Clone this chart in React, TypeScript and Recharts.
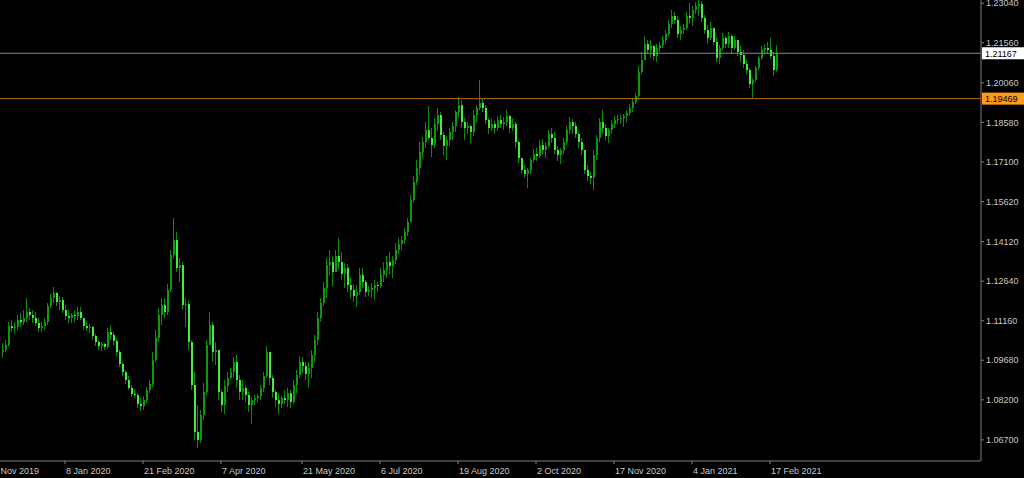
import React from 'react';
import { ComposedChart, Bar, XAxis, YAxis, ReferenceLine } from 'recharts';

// EURUSD daily candles, Nov 2019 - Feb 2021
const highs = [
  1.1033, 1.1044, 1.1112, 1.1119, 1.1112, 1.1138, 1.1145, 1.1157, 1.1201, 1.1164,
  1.1157, 1.1149, 1.1127, 1.1112, 1.1127, 1.1183, 1.1216, 1.1243, 1.1224, 1.1209,
  1.1205, 1.1175, 1.1157, 1.1145, 1.1157, 1.1168, 1.1168, 1.1127, 1.1112, 1.1104,
  1.1097, 1.1067, 1.1044, 1.1037, 1.1033, 1.1089, 1.1097, 1.1074, 1.1052, 1.1007,
  1.0962, 1.0932, 1.0910, 1.0876, 1.0857, 1.0846, 1.0827, 1.0835, 1.0869, 1.0895,
  1.0999, 1.1082, 1.1164, 1.1201, 1.1201, 1.1254, 1.1381, 1.1501, 1.1448, 1.1351,
  1.1336, 1.1201, 1.1194, 1.1044, 1.0925, 1.0801, 1.0783, 1.0884, 1.1044, 1.1149,
  1.1112, 1.1037, 1.1007, 1.0857, 1.0895, 1.0925, 1.0940, 1.0981, 1.0988, 1.0914,
  1.0895, 1.0876, 1.0850, 1.0831, 1.0839, 1.0842, 1.0876, 1.0925, 1.1022, 1.0999,
  1.0914, 1.0857, 1.0846, 1.0835, 1.0857, 1.0865, 1.0857, 1.0895, 1.0932, 1.0985,
  1.0981, 1.0962, 1.0962, 1.1007, 1.1063, 1.1149, 1.1201, 1.1261, 1.1351, 1.1381,
  1.1359, 1.1381, 1.1426, 1.1374, 1.1332, 1.1329, 1.1276, 1.1254, 1.1250, 1.1314,
  1.1314, 1.1269, 1.1246, 1.1258, 1.1269, 1.1261, 1.1314, 1.1336, 1.1359, 1.1374,
  1.1359, 1.1407, 1.1426, 1.1433, 1.1463, 1.1501, 1.1587, 1.1658, 1.1718, 1.1785,
  1.1804, 1.1860, 1.1920, 1.1837, 1.1875, 1.1912, 1.1897, 1.1822, 1.1807, 1.1837,
  1.1860, 1.1905, 1.1953, 1.1942, 1.1875, 1.1860, 1.1849, 1.1905, 1.1923, 1.2017,
  1.1949, 1.1923, 1.1875, 1.1871, 1.1863, 1.1882, 1.1886, 1.1878, 1.1905, 1.1886,
  1.1875, 1.1860, 1.1792, 1.1725, 1.1699, 1.1688, 1.1725, 1.1759, 1.1762, 1.1792,
  1.1796, 1.1785, 1.1830, 1.1837, 1.1822, 1.1770, 1.1762, 1.1800, 1.1845, 1.1878,
  1.1871, 1.1860, 1.1822, 1.1800, 1.1755, 1.1699, 1.1673, 1.1755, 1.1811, 1.1875,
  1.1905, 1.1852, 1.1837, 1.1867, 1.1882, 1.1886, 1.1886, 1.1890, 1.1905, 1.1927,
  1.1949, 1.1968, 1.2069, 1.2121, 1.2181, 1.2166, 1.2166, 1.2148, 1.2151, 1.2159,
  1.2181, 1.2204, 1.2241, 1.2279, 1.2271, 1.2256, 1.2219, 1.2226, 1.2271, 1.2305,
  1.2294, 1.2309, 1.2316, 1.2312, 1.2260, 1.2223, 1.2234, 1.2211, 1.2174, 1.2148,
  1.2193, 1.2181, 1.2196, 1.2189, 1.2181, 1.2166, 1.2144, 1.2129, 1.2092, 1.2062,
  1.2024, 1.2069, 1.2107, 1.2144, 1.2151, 1.2159, 1.2174, 1.2121, 1.2148,
];

const lows = [
  1.0977, 1.0999, 1.1018, 1.1074, 1.1067, 1.1082, 1.1093, 1.1101, 1.1112, 1.1119,
  1.1108, 1.1097, 1.1074, 1.1074, 1.1082, 1.1101, 1.1164, 1.1183, 1.1172, 1.1157,
  1.1145, 1.1119, 1.1108, 1.1108, 1.1112, 1.1119, 1.1119, 1.1082, 1.1078, 1.1071,
  1.1044, 1.1022, 1.1007, 1.1003, 1.1007, 1.1011, 1.1044, 1.1026, 1.0985, 1.0943,
  1.0910, 1.0880, 1.0857, 1.0831, 1.0827, 1.0790, 1.0779, 1.0783, 1.0809, 1.0846,
  1.0869, 1.0962, 1.1037, 1.1101, 1.1127, 1.1138, 1.1224, 1.1351, 1.1299, 1.1261,
  1.1157, 1.1093, 1.1007, 1.0857, 1.0670, 1.0640, 1.0659, 1.0745, 1.0839, 1.1026,
  1.0962, 1.0951, 1.0820, 1.0775, 1.0768, 1.0850, 1.0895, 1.0902, 1.0865, 1.0820,
  1.0820, 1.0812, 1.0775, 1.0730, 1.0801, 1.0812, 1.0820, 1.0850, 1.0902, 1.0876,
  1.0827, 1.0794, 1.0768, 1.0790, 1.0805, 1.0794, 1.0790, 1.0805, 1.0846, 1.0902,
  1.0921, 1.0895, 1.0865, 1.0902, 1.0962, 1.1026, 1.1112, 1.1172, 1.1201, 1.1287,
  1.1246, 1.1299, 1.1306, 1.1269, 1.1239, 1.1224, 1.1201, 1.1187, 1.1168, 1.1213,
  1.1239, 1.1205, 1.1209, 1.1201, 1.1194, 1.1224, 1.1239, 1.1261, 1.1276, 1.1291,
  1.1276, 1.1329, 1.1366, 1.1381, 1.1403, 1.1433, 1.1486, 1.1561, 1.1624, 1.1662,
  1.1725, 1.1762, 1.1792, 1.1729, 1.1762, 1.1830, 1.1792, 1.1736, 1.1718, 1.1770,
  1.1792, 1.1822, 1.1875, 1.1837, 1.1792, 1.1815, 1.1781, 1.1807, 1.1860, 1.1905,
  1.1897, 1.1852, 1.1815, 1.1826, 1.1815, 1.1826, 1.1837, 1.1830, 1.1845, 1.1819,
  1.1826, 1.1762, 1.1706, 1.1665, 1.1650, 1.1613, 1.1665, 1.1710, 1.1714, 1.1725,
  1.1740, 1.1725, 1.1762, 1.1781, 1.1740, 1.1714, 1.1703, 1.1740, 1.1774, 1.1815,
  1.1815, 1.1800, 1.1762, 1.1736, 1.1665, 1.1639, 1.1628, 1.1605, 1.1718, 1.1785,
  1.1815, 1.1792, 1.1781, 1.1815, 1.1837, 1.1852, 1.1852, 1.1841, 1.1860, 1.1882,
  1.1897, 1.1927, 1.1942, 1.2039, 1.2092, 1.2114, 1.2099, 1.2092, 1.2084, 1.2121,
  1.2136, 1.2151, 1.2181, 1.2211, 1.2226, 1.2174, 1.2166, 1.2189, 1.2204, 1.2226,
  1.2219, 1.2264, 1.2256, 1.2234, 1.2189, 1.2151, 1.2166, 1.2148, 1.2084, 1.2077,
  1.2129, 1.2136, 1.2136, 1.2114, 1.2129, 1.2107, 1.2084, 1.2062, 1.2039, 1.1987,
  1.1949, 1.2009, 1.2054, 1.2092, 1.2114, 1.2114, 1.2099, 1.2032, 1.2047,
];

const opens = [
  1.0999, 1.1007, 1.1026, 1.1097, 1.1089, 1.1093, 1.1119, 1.1112, 1.1127, 1.1149,
  1.1138, 1.1127, 1.1108, 1.1089, 1.1097, 1.1112, 1.1172, 1.1201, 1.1220, 1.1187,
  1.1194, 1.1157, 1.1134, 1.1127, 1.1138, 1.1134, 1.1149, 1.1127, 1.1097, 1.1089,
  1.1093, 1.1059, 1.1037, 1.1022, 1.1029, 1.1018, 1.1074, 1.1063, 1.1041, 1.0999,
  1.0955, 1.0925, 1.0895, 1.0865, 1.0842, 1.0839, 1.0805, 1.0798, 1.0820, 1.0857,
  1.0880, 1.0970, 1.1052, 1.1138, 1.1175, 1.1149, 1.1231, 1.1362, 1.1418, 1.1314,
  1.1325, 1.1175, 1.1179, 1.1037, 1.0876, 1.0700, 1.0670, 1.0764, 1.0850, 1.1026,
  1.1101, 1.0999, 1.1007, 1.0850, 1.0801, 1.0872, 1.0902, 1.0925, 1.0962, 1.0895,
  1.0850, 1.0865, 1.0839, 1.0801, 1.0820, 1.0827, 1.0835, 1.0865, 1.0910, 1.0999,
  1.0902, 1.0850, 1.0820, 1.0805, 1.0827, 1.0820, 1.0846, 1.0812, 1.0876, 1.0914,
  1.0962, 1.0947, 1.0917, 1.0940, 1.0988, 1.1044, 1.1127, 1.1183, 1.1239, 1.1325,
  1.1336, 1.1299, 1.1359, 1.1336, 1.1291, 1.1314, 1.1250, 1.1231, 1.1209, 1.1224,
  1.1287, 1.1261, 1.1224, 1.1231, 1.1239, 1.1250, 1.1246, 1.1287, 1.1306, 1.1336,
  1.1321, 1.1344, 1.1381, 1.1403, 1.1418, 1.1448, 1.1486, 1.1568, 1.1635, 1.1688,
  1.1748, 1.1785, 1.1830, 1.1800, 1.1774, 1.1852, 1.1886, 1.1811, 1.1770, 1.1792,
  1.1822, 1.1845, 1.1897, 1.1923, 1.1860, 1.1837, 1.1845, 1.1822, 1.1886, 1.1912,
  1.1931, 1.1912, 1.1867, 1.1837, 1.1852, 1.1837, 1.1867, 1.1852, 1.1860, 1.1882,
  1.1837, 1.1852, 1.1785, 1.1725, 1.1680, 1.1665, 1.1680, 1.1718, 1.1740, 1.1733,
  1.1774, 1.1755, 1.1770, 1.1815, 1.1800, 1.1755, 1.1736, 1.1755, 1.1785, 1.1830,
  1.1860, 1.1845, 1.1815, 1.1785, 1.1755, 1.1680, 1.1658, 1.1650, 1.1736, 1.1800,
  1.1860, 1.1837, 1.1807, 1.1830, 1.1852, 1.1867, 1.1871, 1.1875, 1.1882, 1.1893,
  1.1912, 1.1935, 1.1957, 1.2047, 1.2092, 1.2151, 1.2129, 1.2144, 1.2107, 1.2136,
  1.2148, 1.2166, 1.2189, 1.2226, 1.2256, 1.2241, 1.2189, 1.2204, 1.2211, 1.2256,
  1.2249, 1.2279, 1.2294, 1.2301, 1.2249, 1.2204, 1.2174, 1.2211, 1.2159, 1.2099,
  1.2136, 1.2174, 1.2151, 1.2181, 1.2136, 1.2166, 1.2121, 1.2110, 1.2077, 1.2054,
  1.2002, 1.2017, 1.2062, 1.2099, 1.2129, 1.2136, 1.2129, 1.2107, 1.2054,
];

const closes = [
  1.1007, 1.1026, 1.1097, 1.1089, 1.1093, 1.1119, 1.1112, 1.1127, 1.1149, 1.1138,
  1.1127, 1.1108, 1.1089, 1.1097, 1.1112, 1.1172, 1.1201, 1.1220, 1.1187, 1.1194,
  1.1157, 1.1134, 1.1127, 1.1138, 1.1134, 1.1149, 1.1127, 1.1097, 1.1089, 1.1093,
  1.1059, 1.1037, 1.1022, 1.1029, 1.1018, 1.1074, 1.1063, 1.1041, 1.0999, 1.0955,
  1.0925, 1.0895, 1.0865, 1.0842, 1.0839, 1.0805, 1.0798, 1.0820, 1.0857, 1.0880,
  1.0970, 1.1052, 1.1138, 1.1175, 1.1149, 1.1231, 1.1362, 1.1418, 1.1314, 1.1325,
  1.1175, 1.1179, 1.1037, 1.0876, 1.0700, 1.0670, 1.0764, 1.0850, 1.1026, 1.1101,
  1.0999, 1.1007, 1.0850, 1.0801, 1.0872, 1.0902, 1.0925, 1.0962, 1.0895, 1.0850,
  1.0865, 1.0839, 1.0801, 1.0820, 1.0827, 1.0835, 1.0865, 1.0910, 1.0999, 1.0902,
  1.0850, 1.0820, 1.0805, 1.0827, 1.0820, 1.0846, 1.0812, 1.0876, 1.0914, 1.0962,
  1.0947, 1.0917, 1.0940, 1.0988, 1.1044, 1.1127, 1.1183, 1.1239, 1.1325, 1.1336,
  1.1299, 1.1359, 1.1336, 1.1291, 1.1314, 1.1250, 1.1231, 1.1209, 1.1224, 1.1287,
  1.1261, 1.1224, 1.1231, 1.1239, 1.1250, 1.1246, 1.1287, 1.1306, 1.1336, 1.1321,
  1.1344, 1.1381, 1.1403, 1.1418, 1.1448, 1.1486, 1.1568, 1.1635, 1.1688, 1.1748,
  1.1785, 1.1830, 1.1800, 1.1774, 1.1852, 1.1886, 1.1811, 1.1770, 1.1792, 1.1822,
  1.1845, 1.1897, 1.1923, 1.1860, 1.1837, 1.1845, 1.1822, 1.1886, 1.1912, 1.1931,
  1.1912, 1.1867, 1.1837, 1.1852, 1.1837, 1.1867, 1.1852, 1.1860, 1.1882, 1.1837,
  1.1852, 1.1785, 1.1725, 1.1680, 1.1665, 1.1680, 1.1718, 1.1740, 1.1733, 1.1774,
  1.1755, 1.1770, 1.1815, 1.1800, 1.1755, 1.1736, 1.1755, 1.1785, 1.1830, 1.1860,
  1.1845, 1.1815, 1.1785, 1.1755, 1.1680, 1.1658, 1.1650, 1.1736, 1.1800, 1.1860,
  1.1837, 1.1807, 1.1830, 1.1852, 1.1867, 1.1871, 1.1875, 1.1882, 1.1893, 1.1912,
  1.1935, 1.1957, 1.2047, 1.2092, 1.2151, 1.2129, 1.2144, 1.2107, 1.2136, 1.2148,
  1.2166, 1.2189, 1.2226, 1.2256, 1.2241, 1.2189, 1.2204, 1.2211, 1.2256, 1.2249,
  1.2279, 1.2294, 1.2301, 1.2249, 1.2204, 1.2174, 1.2211, 1.2159, 1.2099, 1.2136,
  1.2174, 1.2151, 1.2181, 1.2136, 1.2166, 1.2121, 1.2110, 1.2077, 1.2054, 1.2002,
  1.2017, 1.2062, 1.2099, 1.2129, 1.2136, 1.2129, 1.2107, 1.2054, 1.2117,
];

// bar index of each date label on the time axis
const dateTicks = [-5, 21, 47, 73, 100, 126, 152, 178, 204, 230, 256];
const dateLabels = [
  '25 Nov 2019', '8 Jan 2020', '21 Feb 2020', '7 Apr 2020', '21 May 2020', '6 Jul 2020',
  '19 Aug 2020', '2 Oct 2020', '17 Nov 2020', '4 Jan 2021', '17 Feb 2021',
];

const priceTicks = [
  1.2304, 1.2156, 1.2006, 1.1858, 1.171, 1.1562, 1.1412, 1.1264, 1.1116, 1.0968, 1.082, 1.067,
];

const bidPrice = 1.21167;
const levelPrice = 1.19469;

const data = closes.map((c, i) => ({
  i,
  o: opens[i],
  h: highs[i],
  l: lows[i],
  c,
  range: [lows[i], highs[i]],
}));

const FONT = '"Liberation Sans", Arial, sans-serif';

const Candle = (props: any) => {
  const { x, y, width, height, payload } = props;
  if (!payload || height == null) return null;
  const { o, h, l, c } = payload;
  const span = h - l || 0.0001;
  const py = (v: number) => y + ((h - v) / span) * height;
  const cx = Math.round(x + width / 2);
  const top = Math.min(py(o), py(c));
  const bot = Math.max(py(o), py(c));
  const bull = c >= o;
  return (
    <g shapeRendering="crispEdges">
      <rect x={cx - 1} y={y} width={1} height={Math.max(height, 1)} fill="#0a8c0a" />
      <rect
        x={cx - 1}
        y={top}
        width={2}
        height={Math.max(bot - top, 1)}
        fill={bull ? '#0a9a0a' : '#45ea45'}
      />
    </g>
  );
};

const DateTick = (props: any) => {
  const { x, y, payload } = props;
  const idx = dateTicks.indexOf(payload.value);
  return (
    <text x={x + 1} y={y + 8} fill="#c8c8c8" fontSize={9} fontFamily={FONT} textAnchor="start">
      {dateLabels[idx]}
    </text>
  );
};

const PriceTag = (props: any) => {
  const { viewBox, text, bg } = props;
  if (!viewBox) return null;
  const x = viewBox.x + viewBox.width;
  const y = viewBox.y;
  return (
    <g>
      <rect x={x + 1} y={y - 6} width={42} height={12} fill={bg} />
      <text x={x + 4} y={y + 3.5} fontSize={9} fontFamily={FONT} fill="#000">
        {text}
      </text>
    </g>
  );
};

export default function App() {
  return (
    <div style={{ width: 1024, height: 478, background: '#000' }}>
      <style>{'body{margin:0;background:#000;}'}</style>
      <ComposedChart
        width={1024}
        height={478}
        data={data}
        margin={{ top: 0, right: 0, bottom: 0, left: 0 }}
      >
        <XAxis
          dataKey="i"
          type="number"
          domain={[-2 / 3, 326.3333]}
          allowDataOverflow
          ticks={dateTicks}
          interval={0}
          height={17}
          axisLine={{ stroke: '#808080' }}
          tickLine={{ stroke: '#808080' }}
          tickSize={3}
          tick={<DateTick />}
        />
        <YAxis
          orientation="right"
          type="number"
          domain={[1.0591, 1.2316]}
          allowDataOverflow
          ticks={priceTicks}
          interval={0}
          width={43}
          axisLine={{ stroke: '#808080' }}
          tickLine={{ stroke: '#808080' }}
          tickSize={3}
          tickMargin={2}
          tick={{ fill: '#c8c8c8', fontSize: 9, fontFamily: FONT }}
          tickFormatter={(v: number) => v.toFixed(5)}
        />
        <ReferenceLine
          y={levelPrice}
          stroke="#b8730f"
          strokeWidth={1}
          label={<PriceTag text={levelPrice.toFixed(5)} bg="#ff9a1a" />}
        />
        <ReferenceLine
          y={bidPrice}
          stroke="#7d8a99"
          strokeWidth={1}
          label={<PriceTag text={bidPrice.toFixed(5)} bg="#ffffff" />}
        />
        <Bar dataKey="range" barSize={2} shape={<Candle />} isAnimationActive={false} />
      </ComposedChart>
    </div>
  );
}
